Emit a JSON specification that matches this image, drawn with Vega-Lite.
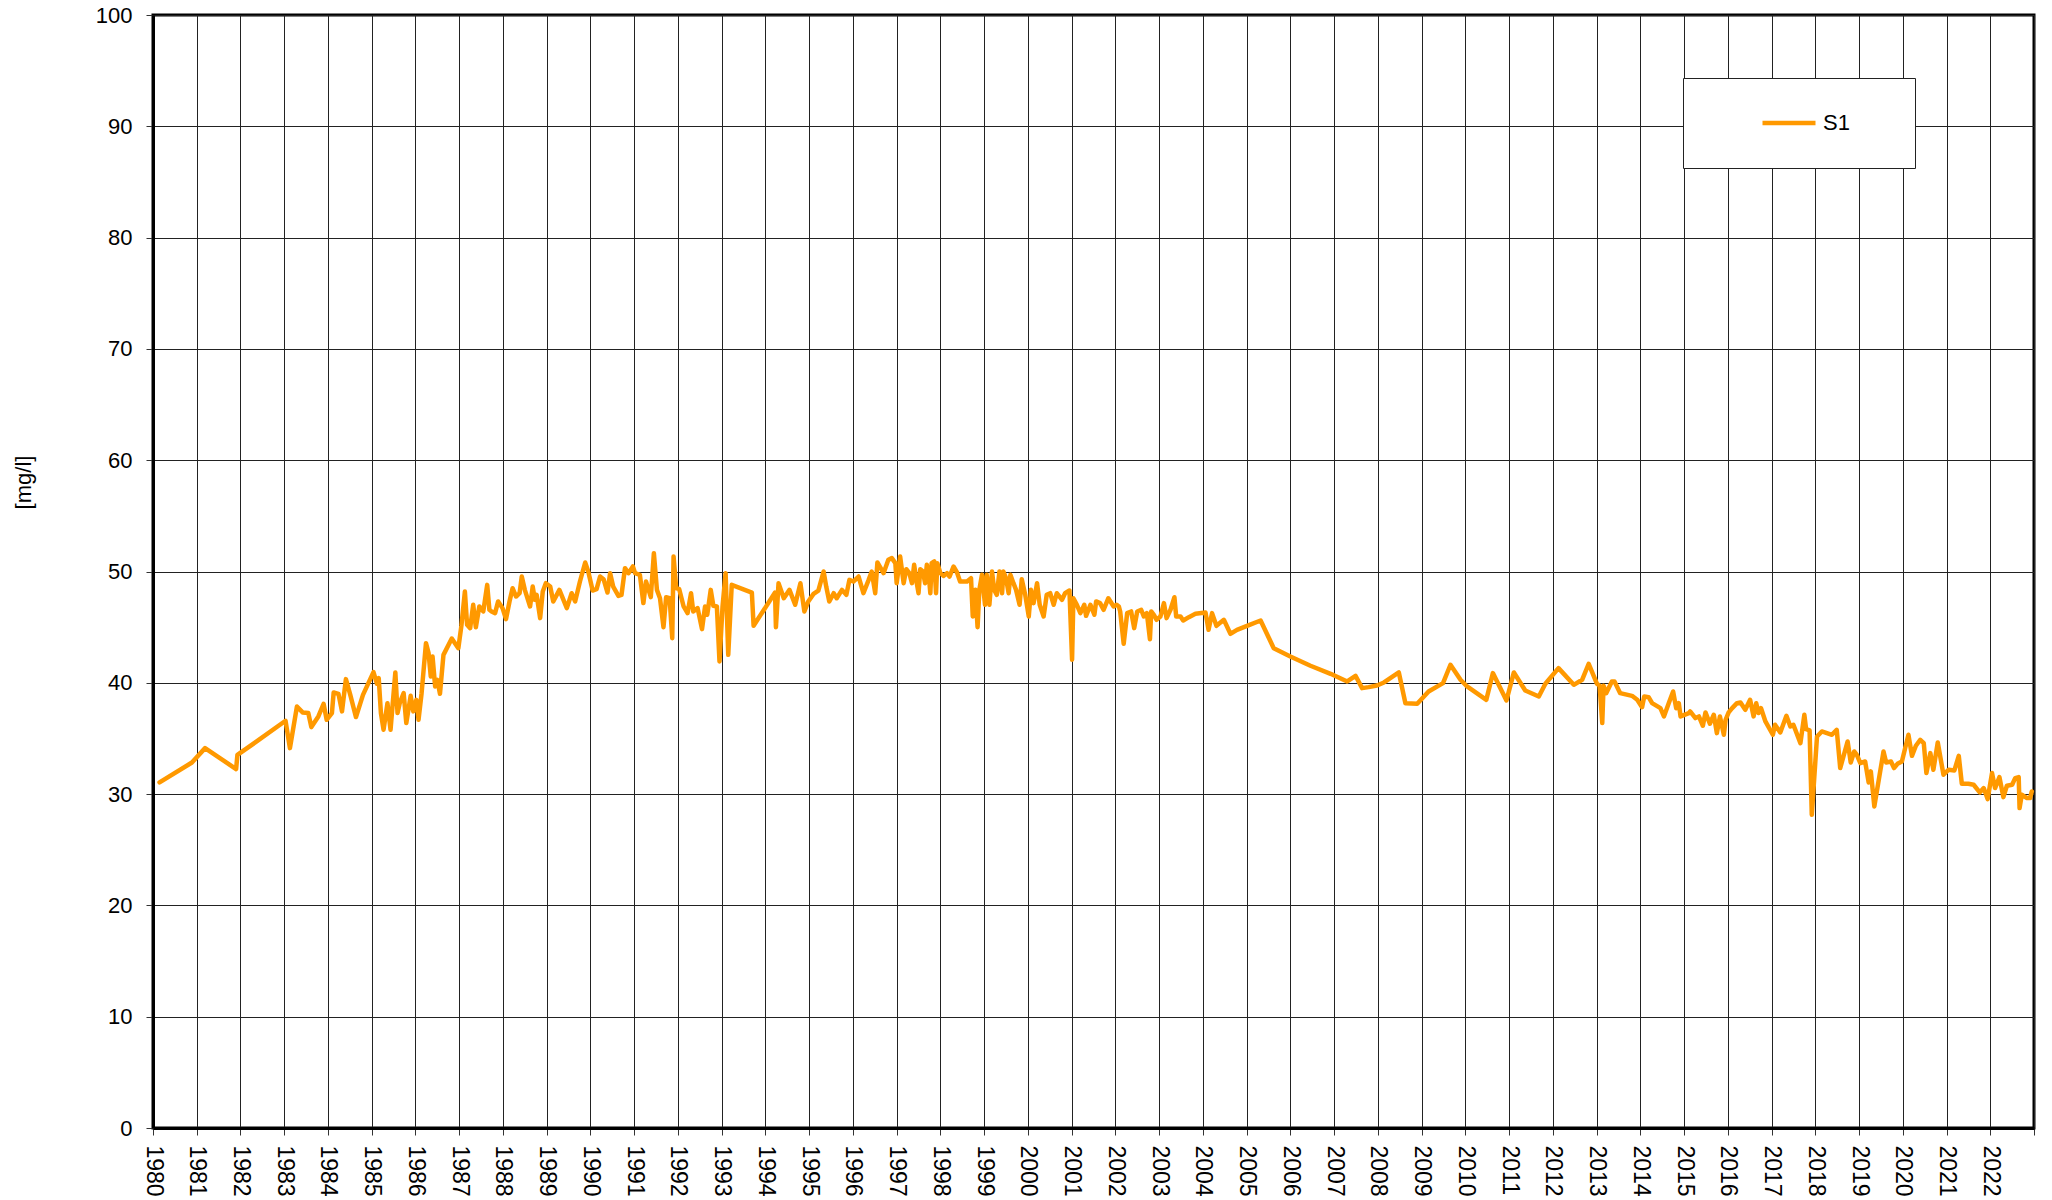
{
  "$schema": "https://vega.github.io/schema/vega-lite/v6.json",
  "width": 1881,
  "height": 1113,
  "autosize": "none",
  "padding": {"left": 153, "top": 15, "right": 18, "bottom": 72},
  "background": "white",
  "config": {
    "view": {"stroke": "black", "strokeWidth": 3},
    "font": "Liberation Sans"
  },
  "data": {"values": [
    {"year":1980.15,"mg":31.05},{"year":1980.89,"mg":32.84},{"year":1981.19,"mg":34.13},{"year":1981.90,"mg":32.25},{"year":1981.93,"mg":33.53},{"year":1982.37,"mg":34.73},{"year":1983.03,"mg":36.59},{"year":1983.13,"mg":34.13},{"year":1983.29,"mg":37.87},{"year":1983.42,"mg":37.34},{"year":1983.55,"mg":37.28},{"year":1983.62,"mg":36.02},{"year":1983.78,"mg":36.98},{"year":1983.90,"mg":38.11},{"year":1983.97,"mg":36.68},{"year":1984.09,"mg":37.28},{"year":1984.13,"mg":39.13},{"year":1984.24,"mg":39.01},{"year":1984.32,"mg":37.43},{"year":1984.41,"mg":40.33},{"year":1984.51,"mg":38.92},{"year":1984.64,"mg":36.92},{"year":1984.80,"mg":38.92},{"year":1985.04,"mg":40.96},{"year":1985.12,"mg":39.91},{"year":1985.16,"mg":40.42},{"year":1985.21,"mg":37.28},{"year":1985.27,"mg":35.78},{"year":1985.36,"mg":38.17},{"year":1985.43,"mg":35.78},{"year":1985.54,"mg":40.93},{"year":1985.59,"mg":37.28},{"year":1985.64,"mg":38.17},{"year":1985.73,"mg":39.07},{"year":1985.79,"mg":36.38},{"year":1985.89,"mg":38.83},{"year":1985.95,"mg":37.43},{"year":1986.02,"mg":38.47},{"year":1986.07,"mg":36.68},{"year":1986.14,"mg":39.07},{"year":1986.24,"mg":43.56},{"year":1986.30,"mg":42.66},{"year":1986.35,"mg":40.57},{"year":1986.39,"mg":42.37},{"year":1986.45,"mg":39.67},{"year":1986.50,"mg":40.27},{"year":1986.56,"mg":39.01},{"year":1986.64,"mg":42.51},{"year":1986.83,"mg":43.98},{"year":1986.98,"mg":43.11},{"year":1987.05,"mg":45.12},{"year":1987.13,"mg":48.20},{"year":1987.18,"mg":45.21},{"year":1987.25,"mg":44.91},{"year":1987.32,"mg":47.01},{"year":1987.38,"mg":44.99},{"year":1987.46,"mg":46.86},
    {"year":1987.55,"mg":46.41},{"year":1987.64,"mg":48.80},{"year":1987.69,"mg":46.56},{"year":1987.74,"mg":46.41},{"year":1987.82,"mg":46.26},{"year":1987.89,"mg":47.31},{"year":1987.99,"mg":46.71},{"year":1988.07,"mg":45.72},{"year":1988.15,"mg":47.31},{"year":1988.22,"mg":48.50},{"year":1988.30,"mg":47.75},{"year":1988.38,"mg":48.05},{"year":1988.43,"mg":49.55},{"year":1988.50,"mg":48.35},{"year":1988.62,"mg":46.86},{"year":1988.68,"mg":48.65},{"year":1988.73,"mg":47.46},{"year":1988.77,"mg":47.90},{"year":1988.85,"mg":45.81},{"year":1988.91,"mg":48.20},{"year":1988.98,"mg":48.95},{"year":1989.08,"mg":48.65},{"year":1989.15,"mg":47.31},{"year":1989.29,"mg":48.35},{"year":1989.46,"mg":46.71},{"year":1989.57,"mg":48.05},{"year":1989.65,"mg":47.31},{"year":1989.76,"mg":49.10},{"year":1989.88,"mg":50.81},{"year":1989.95,"mg":50.0},{"year":1990.05,"mg":48.29},{"year":1990.14,"mg":48.41},{"year":1990.22,"mg":49.55},{"year":1990.30,"mg":49.31},{"year":1990.39,"mg":48.11},{"year":1990.45,"mg":49.85},{"year":1990.52,"mg":48.65},{"year":1990.64,"mg":47.81},{"year":1990.71,"mg":47.90},{"year":1990.79,"mg":50.30},{"year":1990.87,"mg":49.85},{"year":1990.97,"mg":50.45},{"year":1991.02,"mg":49.85},{"year":1991.13,"mg":49.70},{"year":1991.21,"mg":47.16},{"year":1991.27,"mg":49.10},{"year":1991.33,"mg":48.35},{"year":1991.38,"mg":47.69},{"year":1991.45,"mg":51.65},{"year":1991.52,"mg":48.35},{"year":1991.59,"mg":47.60},{"year":1991.67,"mg":45.0},{"year":1991.73,"mg":47.69},{"year":1991.81,"mg":47.60},{"year":1991.87,"mg":44.01},{"year":1991.90,"mg":51.35},{"year":1991.96,"mg":48.50},{"year":1992.03,"mg":48.41},{"year":1992.13,"mg":46.86},{"year":1992.22,"mg":46.26},{"year":1992.30,"mg":48.05},{"year":1992.35,"mg":46.41},{"year":1992.45,"mg":46.71},{"year":1992.55,"mg":44.82},{"year":1992.62,"mg":46.86},{"year":1992.67,"mg":46.11},{"year":1992.75,"mg":48.35},{"year":1992.81,"mg":46.92},{"year":1992.89,"mg":46.86},{"year":1992.95,"mg":41.92},{"year":1993.02,"mg":46.86},{"year":1993.09,"mg":49.85},{"year":1993.15,"mg":42.51},{"year":1993.23,"mg":48.80},{"year":1993.69,"mg":48.11},{"year":1993.73,"mg":45.12},{"year":1994.22,"mg":48.11},{"year":1994.24,"mg":45.0},{"year":1994.30,"mg":48.95},{"year":1994.42,"mg":47.60},{"year":1994.55,"mg":48.35},{"year":1994.68,"mg":47.01},{"year":1994.80,"mg":48.95},
    {"year":1994.89,"mg":46.41},{"year":1994.98,"mg":47.31},{"year":1995.10,"mg":47.99},{"year":1995.21,"mg":48.29},{"year":1995.33,"mg":50.0},{"year":1995.39,"mg":48.65},{"year":1995.46,"mg":47.31},{"year":1995.56,"mg":48.05},{"year":1995.63,"mg":47.60},{"year":1995.75,"mg":48.35},{"year":1995.85,"mg":47.90},{"year":1995.92,"mg":49.25},{"year":1996.01,"mg":49.10},{"year":1996.13,"mg":49.55},{"year":1996.24,"mg":48.05},{"year":1996.36,"mg":49.25},{"year":1996.43,"mg":50.0},{"year":1996.51,"mg":48.05},{"year":1996.56,"mg":50.81},{"year":1996.70,"mg":49.85},{"year":1996.81,"mg":51.05},{"year":1996.89,"mg":51.20},{"year":1996.97,"mg":50.75},{"year":1997.00,"mg":48.95},{"year":1997.08,"mg":51.35},{"year":1997.16,"mg":48.95},{"year":1997.22,"mg":50.21},{"year":1997.29,"mg":49.85},{"year":1997.35,"mg":48.95},{"year":1997.40,"mg":50.60},{"year":1997.46,"mg":48.95},{"year":1997.50,"mg":48.05},{"year":1997.54,"mg":50.21},{"year":1997.60,"mg":50.0},{"year":1997.65,"mg":48.95},{"year":1997.69,"mg":50.60},{"year":1997.73,"mg":49.85},{"year":1997.77,"mg":48.05},{"year":1997.80,"mg":50.75},{"year":1997.86,"mg":50.90},{"year":1997.90,"mg":48.05},{"year":1997.93,"mg":50.75},{"year":1998.00,"mg":49.85},{"year":1998.07,"mg":49.61},{"year":1998.15,"mg":49.85},{"year":1998.21,"mg":49.55},{"year":1998.30,"mg":50.45},{"year":1998.38,"mg":49.91},{"year":1998.45,"mg":49.10},{"year":1998.61,"mg":49.10},{"year":1998.70,"mg":49.40},{"year":1998.74,"mg":45.96},{"year":1998.80,"mg":48.35},{"year":1998.85,"mg":45.0},{"year":1998.89,"mg":48.35},{"year":1998.95,"mg":49.70},{"year":1999.02,"mg":47.01},{"year":1999.06,"mg":49.70},{"year":1999.12,"mg":47.01},{"year":1999.18,"mg":50.0},{"year":1999.23,"mg":48.35},{"year":1999.29,"mg":47.90},{"year":1999.35,"mg":50.0},{"year":1999.41,"mg":48.05},{"year":1999.44,"mg":50.0},{"year":1999.50,"mg":49.40},{"year":1999.56,"mg":48.05},{"year":1999.60,"mg":49.70},{"year":1999.67,"mg":48.95},{"year":1999.73,"mg":48.35},{"year":1999.81,"mg":47.01},{"year":1999.86,"mg":49.31},{"year":1999.94,"mg":47.90},{"year":2000.02,"mg":45.96},{"year":2000.07,"mg":48.35},{"year":2000.13,"mg":47.16},{"year":2000.21,"mg":48.95},{"year":2000.27,"mg":47.01},{"year":2000.36,"mg":45.96},{"year":2000.43,"mg":47.90},{"year":2000.51,"mg":48.05},{"year":2000.59,"mg":47.01},{"year":2000.66,"mg":48.05},{"year":2000.78,"mg":47.46},{"year":2000.85,"mg":48.05},{"year":2000.95,"mg":48.29},{"year":2001.01,"mg":42.07},{"year":2001.04,"mg":47.60},{"year":2001.12,"mg":47.01},{"year":2001.20,"mg":46.26},{"year":2001.29,"mg":47.01},{"year":2001.33,"mg":46.02},{"year":2001.43,"mg":47.01},{"year":2001.52,"mg":46.11},{"year":2001.56,"mg":47.31},{"year":2001.65,"mg":47.16},{"year":2001.73,"mg":46.56},{"year":2001.84,"mg":47.60},{"year":2001.96,"mg":46.86},{"year":2002.03,"mg":47.01},
    {"year":2002.08,"mg":46.86},{"year":2002.11,"mg":46.41},{"year":2002.19,"mg":43.50},{"year":2002.27,"mg":46.26},{"year":2002.36,"mg":46.41},{"year":2002.43,"mg":44.91},{"year":2002.50,"mg":46.41},{"year":2002.59,"mg":46.56},{"year":2002.65,"mg":45.96},{"year":2002.72,"mg":46.26},{"year":2002.79,"mg":43.92},{"year":2002.82,"mg":46.41},{"year":2002.88,"mg":46.11},{"year":2002.94,"mg":45.66},{"year":2003.03,"mg":45.96},{"year":2003.11,"mg":47.16},{"year":2003.17,"mg":45.81},{"year":2003.26,"mg":46.56},{"year":2003.35,"mg":47.69},{"year":2003.39,"mg":45.96},{"year":2003.49,"mg":45.96},{"year":2003.55,"mg":45.60},{"year":2003.68,"mg":45.90},{"year":2003.83,"mg":46.20},{"year":2004.06,"mg":46.32},{"year":2004.13,"mg":44.76},{"year":2004.21,"mg":46.26},{"year":2004.31,"mg":45.12},{"year":2004.48,"mg":45.66},{"year":2004.63,"mg":44.40},{"year":2004.78,"mg":44.76},{"year":2005.01,"mg":45.12},{"year":2005.32,"mg":45.60},{"year":2005.62,"mg":43.11},{"year":2006.00,"mg":42.37},{"year":2006.46,"mg":41.53},{"year":2006.92,"mg":40.81},{"year":2007.30,"mg":40.12},{"year":2007.49,"mg":40.63},{"year":2007.64,"mg":39.52},{"year":2007.79,"mg":39.61},{"year":2007.98,"mg":39.76},{"year":2008.14,"mg":40.03},{"year":2008.48,"mg":40.93},{"year":2008.63,"mg":38.17},{"year":2008.90,"mg":38.11},{"year":2009.16,"mg":39.22},
    {"year":2009.49,"mg":39.97},{"year":2009.66,"mg":41.62},{"year":2009.89,"mg":40.27},{"year":2010.04,"mg":39.67},{"year":2010.48,"mg":38.47},{"year":2010.63,"mg":40.87},{"year":2010.94,"mg":38.41},{"year":2011.11,"mg":40.93},{"year":2011.37,"mg":39.31},{"year":2011.68,"mg":38.77},{"year":2011.83,"mg":39.91},{"year":2012.13,"mg":41.32},{"year":2012.48,"mg":39.82},{"year":2012.67,"mg":40.27},{"year":2012.82,"mg":41.71},{"year":2013.01,"mg":39.91},{"year":2013.07,"mg":39.73},{"year":2013.13,"mg":36.38},{"year":2013.16,"mg":39.73},{"year":2013.22,"mg":39.07},{"year":2013.35,"mg":40.12},{"year":2013.41,"mg":40.12},{"year":2013.54,"mg":39.07},{"year":2013.81,"mg":38.83},{"year":2013.93,"mg":38.47},{"year":2014.04,"mg":37.81},{"year":2014.09,"mg":38.77},{"year":2014.19,"mg":38.71},{"year":2014.27,"mg":38.17},{"year":2014.46,"mg":37.72},{"year":2014.54,"mg":36.98},{"year":2014.65,"mg":38.17},{"year":2014.75,"mg":39.22},{"year":2014.82,"mg":37.72},{"year":2014.88,"mg":38.17},{"year":2014.92,"mg":36.98},{"year":2015.11,"mg":37.28},{"year":2015.14,"mg":37.43},{"year":2015.26,"mg":36.83},{"year":2015.34,"mg":36.98},{"year":2015.43,"mg":36.14},{"year":2015.49,"mg":37.34},{"year":2015.59,"mg":36.32},{"year":2015.68,"mg":37.13},{"year":2015.75,"mg":35.48},{"year":2015.82,"mg":36.98},{"year":2015.91,"mg":35.33},{"year":2015.95,"mg":36.68},{"year":2016.02,"mg":37.34},{"year":2016.10,"mg":37.72},{"year":2016.21,"mg":38.17},{"year":2016.29,"mg":38.23},{"year":2016.40,"mg":37.57},
    {"year":2016.51,"mg":38.47},{"year":2016.59,"mg":36.98},{"year":2016.65,"mg":38.17},{"year":2016.70,"mg":37.28},{"year":2016.76,"mg":37.72},{"year":2016.86,"mg":36.53},{"year":2017.03,"mg":35.33},{"year":2017.08,"mg":36.23},{"year":2017.20,"mg":35.54},{"year":2017.34,"mg":37.04},{"year":2017.43,"mg":36.08},{"year":2017.50,"mg":36.23},{"year":2017.66,"mg":34.58},{"year":2017.75,"mg":37.13},{"year":2017.79,"mg":35.84},{"year":2017.87,"mg":35.72},{"year":2017.92,"mg":28.14},{"year":2018.04,"mg":35.18},{"year":2018.15,"mg":35.63},{"year":2018.38,"mg":35.33},{"year":2018.49,"mg":35.78},{"year":2018.57,"mg":32.34},{"year":2018.74,"mg":34.73},{"year":2018.81,"mg":32.84},{"year":2018.89,"mg":33.83},{"year":2018.95,"mg":33.53},{"year":2019.03,"mg":32.78},{"year":2019.14,"mg":32.93},{"year":2019.22,"mg":31.05},{"year":2019.27,"mg":32.04},{"year":2019.35,"mg":28.89},{"year":2019.56,"mg":33.83},{"year":2019.62,"mg":32.84},{"year":2019.73,"mg":32.93},{"year":2019.80,"mg":32.34},{"year":2019.88,"mg":32.72},{"year":2019.98,"mg":32.93},{"year":2020.13,"mg":35.33},{"year":2020.21,"mg":33.44},{"year":2020.30,"mg":34.34},{"year":2020.40,"mg":34.88},{"year":2020.48,"mg":34.58},{"year":2020.54,"mg":31.89},{"year":2020.63,"mg":33.68},{"year":2020.70,"mg":32.19},{"year":2020.80,"mg":34.64},{"year":2020.93,"mg":31.74},{"year":2021.05,"mg":32.19},{"year":2021.18,"mg":32.13},{"year":2021.28,"mg":33.44},{"year":2021.35,"mg":30.93},{"year":2021.50,"mg":30.93},{"year":2021.62,"mg":30.84},{"year":2021.76,"mg":30.15},{"year":2021.85,"mg":30.54},{"year":2021.94,"mg":29.55},{"year":2022.04,"mg":31.89},{"year":2022.11,"mg":30.54},{"year":2022.21,"mg":31.53},{"year":2022.30,"mg":29.73},{"year":2022.38,"mg":30.75},{"year":2022.50,"mg":30.84},{"year":2022.57,"mg":31.44},{"year":2022.65,"mg":31.53},{"year":2022.67,"mg":28.74},{"year":2022.72,"mg":29.94},{"year":2022.84,"mg":29.64},{"year":2022.91,"mg":29.64},{"year":2022.95,"mg":30.24}
  ]},
  "mark": {"type": "line", "strokeWidth": 4.5, "strokeJoin": "round", "strokeCap": "round"},
  "encoding": {
    "x": {
      "field": "year", "type": "quantitative",
      "scale": {"domain": [1980, 2023], "nice": false, "zero": false},
      "axis": {
        "title": null,
        "values": [1980,1981,1982,1983,1984,1985,1986,1987,1988,1989,1990,1991,1992,1993,1994,1995,1996,1997,1998,1999,2000,2001,2002,2003,2004,2005,2006,2007,2008,2009,2010,2011,2012,2013,2014,2015,2016,2017,2018,2019,2020,2021,2022,2023],
        "format": "d",
        "labelExpr": "datum.value == 2023 ? '' : datum.label",
        "labelAngle": 90, "labelAlign": "left", "labelBaseline": "middle",
        "labelFontSize": 23, "labelColor": "black", "labelPadding": 10,
        "labelOverlap": false, "labelFlush": false,
        "tickSize": 7, "tickColor": "#333", "tickWidth": 1,
        "domainColor": "black", "domainWidth": 3,
        "grid": true, "gridColor": "#222", "gridWidth": 1
      }
    },
    "y": {
      "field": "mg", "type": "quantitative",
      "scale": {"domain": [0, 100], "nice": false},
      "axis": {
        "title": "[mg/l]",
        "titleFontSize": 22, "titleFontWeight": "normal", "titleColor": "black",
        "titleX": -130, "titleY": 467, "titleAngle": -90,
        "titleAlign": "center", "titleBaseline": "middle",
        "values": [0,10,20,30,40,50,60,70,80,90,100],
        "labelFontSize": 22, "labelColor": "black", "labelPadding": 14,
        "labelOverlap": false, "labelFlush": false,
        "tickSize": 7, "tickColor": "#333", "tickWidth": 1,
        "domainColor": "black", "domainWidth": 3,
        "grid": true, "gridColor": "#222", "gridWidth": 1
      }
    },
    "color": {
      "datum": "S1", "type": "nominal",
      "scale": {"range": ["#FF9900"]},
      "legend": {
        "title": null,
        "orient": "none", "legendX": 1530, "legendY": 63,
        "strokeColor": "#222", "fillColor": "white",
        "padding": 33,
        "clipHeight": 24,
        "symbolType": "stroke", "symbolSize": 2809, "symbolStrokeWidth": 4.5,
        "symbolOffset": 44,
        "labelFontSize": 22, "labelColor": "black", "labelOffset": 5,
        "labelExpr": "datum.label + '\u2800\u2800'"
      }
    }
  }
}
